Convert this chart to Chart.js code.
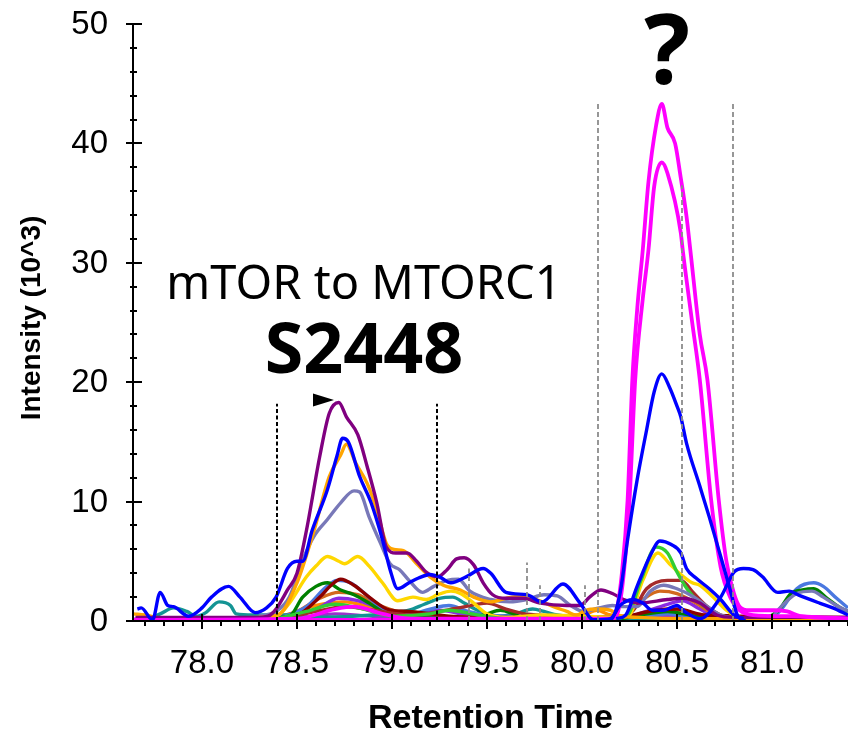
<!DOCTYPE html>
<html>
<head>
<meta charset="utf-8">
<script src="https://cdn.jsdelivr.net/npm/chart.js@4.4.1/dist/chart.umd.min.js"></script>
<style>
  html, body { margin: 0; padding: 0; background: #fff; }
  #wrap { width: 848px; height: 735px; }
</style>
</head>
<body>
<div id="wrap"><canvas id="xic" width="848" height="735"></canvas></div>
<script>
// retention time (min) / intensity (10^3) pairs per transition
let blueMain = [[77.66,1.0],[77.68,1.1],[77.74,0.1],[77.78,2.4],[77.82,1.3],[77.85,1.2],[77.93,0.4],[78.0,1.1],[78.05,2.0],[78.14,2.9],[78.2,2.0],[78.28,0.7],[78.34,1.1],[78.39,2.0],[78.45,4.4],[78.5,5.0],[78.53,5.0],[78.58,7.6],[78.66,11.0],[78.71,13.8],[78.74,15.3],[78.77,15.0],[78.83,12.1],[78.89,9.9],[78.95,6.8],[78.99,4.3],[79.03,2.7],[79.09,3.2],[79.14,3.6],[79.2,3.9],[79.25,3.7],[79.31,3.2],[79.39,3.7],[79.48,4.4],[79.52,4.0],[79.6,2.4],[79.71,2.2],[79.79,1.6],[79.9,3.1],[79.99,1.5],[80.06,0.1],[80.15,0.2],[80.2,1.3],[80.27,1.8],[80.32,1.5],[80.37,0.9],[80.43,0.9],[80.5,1.3],[80.54,0.8],[80.62,0.2],[80.73,2.0],[80.8,4.1],[80.85,4.4],[80.9,4.3],[80.95,3.7],[81.03,2.4],[81.09,2.5],[81.15,2.1],[81.25,1.5],[81.32,1.1],[81.4,0.5]];
let blueBig = [[80.1,0.0],[80.15,0.1],[80.2,2.3],[80.24,6.8],[80.29,11.8],[80.34,16.0],[80.38,19.2],[80.42,20.7],[80.46,19.6],[80.5,18.0],[80.52,17.1],[80.55,14.9],[80.62,11.3],[80.67,8.7],[80.73,5.4],[80.78,2.6],[80.82,0.4],[80.86,0.0]];
let blueSmall = [[80.18,0.2],[80.23,0.5],[80.29,2.9],[80.36,5.5],[80.41,6.7],[80.47,6.4],[80.52,5.7],[80.55,4.4],[80.6,3.6],[80.67,2.7],[80.73,1.8],[80.8,0.5],[80.85,0.2]];
let magentaHigh = [[77.64,0.1],[80.12,0.1],[80.15,0.2],[80.18,0.8],[80.21,4.0],[80.24,10.1],[80.265,20.2],[80.29,26.0],[80.32,31.1],[80.35,36.8],[80.39,41.5],[80.42,43.3],[80.45,41.3],[80.49,40.0],[80.52,37.1],[80.55,33.9],[80.57,31.1],[80.62,24.0],[80.66,20.2],[80.72,10.1],[80.76,5.0],[80.8,2.3],[80.83,1.2],[80.88,0.9],[81.01,0.9],[81.08,0.8],[81.15,0.4],[81.4,0.2]];
let magentaLow = [[77.64,0.1],[78.5,0.2],[78.7,1.0],[78.8,1.2],[78.95,0.6],[79.1,0.2],[80.13,0.2],[80.16,0.2],[80.19,0.8],[80.22,4.0],[80.25,10.1],[80.28,20.2],[80.32,27.0],[80.35,31.1],[80.38,36.4],[80.42,38.4],[80.45,37.5],[80.52,32.5],[80.53,31.1],[80.58,25.0],[80.62,20.2],[80.68,10.1],[80.73,4.5],[80.78,2.0],[80.83,0.9],[80.9,0.5],[81.1,0.4],[81.4,0.2]];
let purple = [[77.65,0.3],[78.3,0.3],[78.36,0.5],[78.39,1.0],[78.45,2.6],[78.5,4.0],[78.55,7.6],[78.62,13.8],[78.67,17.4],[78.72,18.3],[78.76,17.1],[78.82,15.6],[78.87,12.9],[78.92,9.9],[78.97,6.2],[79.02,5.7],[79.08,5.7],[79.13,5.0],[79.18,4.1],[79.24,3.7],[79.29,4.3],[79.34,5.2],[79.38,5.3],[79.43,4.7],[79.48,3.2],[79.53,2.2],[79.6,1.9],[79.69,1.9],[79.78,1.5],[79.92,1.3],[79.99,1.3],[80.04,2.0],[80.1,2.6],[80.16,2.3],[80.22,1.8],[80.3,1.5],[80.45,1.8],[80.53,1.9],[80.62,1.5],[80.71,0.5],[80.8,0.3],[81.4,0.3]];
let orange = [[77.64,0.6],[77.7,0.5],[77.8,0.2],[78.3,0.3],[78.41,0.6],[78.5,3.2],[78.59,7.6],[78.67,12.1],[78.73,13.9],[78.76,14.8],[78.81,13.2],[78.87,11.5],[78.92,9.3],[78.97,6.5],[79.01,6.0],[79.06,5.9],[79.13,4.8],[79.2,3.7],[79.27,3.0],[79.36,2.6],[79.43,2.0],[79.52,1.6],[79.6,1.9],[79.69,2.1],[79.76,1.8],[79.85,1.2],[79.92,0.8],[79.97,0.5],[80.02,0.9],[80.08,1.0],[80.15,0.9],[80.19,0.5],[80.3,0.3],[80.6,0.2],[81.4,0.2]];
let slate = [[78.3,0.4],[78.39,0.8],[78.46,2.0],[78.53,5.1],[78.59,7.1],[78.66,8.5],[78.73,9.9],[78.8,10.9],[78.83,10.8],[78.88,8.7],[78.94,6.5],[78.99,4.8],[79.04,4.3],[79.09,3.4],[79.16,2.4],[79.22,2.9],[79.29,3.4],[79.35,3.5],[79.41,2.5],[79.52,1.8],[79.62,1.6],[79.71,1.8],[79.8,2.2],[79.87,2.1],[79.94,1.3],[80.01,0.8],[80.09,1.1],[80.16,1.3],[80.22,1.2],[80.29,1.2],[80.36,2.5],[80.43,3.0],[80.5,2.7],[80.59,2.0],[80.66,1.2],[80.73,0.5],[80.85,0.2],[81.0,0.3],[81.03,0.9],[81.13,2.3],[81.21,2.5],[81.27,2.0],[81.34,1.3],[81.4,0.8]];
let limeGreen = [[78.4,0.2],[78.55,0.8],[78.7,1.4],[78.85,1.0],[79.0,0.4],[79.2,0.6],[79.3,0.9],[79.45,0.5],[79.6,0.2],[80.15,0.2],[80.24,0.5],[80.31,3.4],[80.39,6.2],[80.45,5.7],[80.5,4.1],[80.54,3.0],[80.6,1.8],[80.69,0.8],[80.74,0.4],[80.85,0.2],[81.4,0.2]];
let gold = [[78.3,0.3],[78.39,0.4],[78.46,1.5],[78.55,3.7],[78.6,4.6],[78.66,5.4],[78.72,5.0],[78.75,4.8],[78.82,5.4],[78.88,4.6],[78.95,3.2],[79.03,1.7],[79.11,2.0],[79.18,1.8],[79.24,2.2],[79.31,2.5],[79.36,2.3],[79.43,1.5],[79.5,0.6],[79.6,0.3],[79.8,0.5],[80.0,0.4],[80.2,0.3],[80.25,0.5],[80.32,3.4],[80.4,5.7],[80.46,4.8],[80.52,3.9],[80.58,3.2],[80.62,3.0],[80.69,2.0],[80.76,0.9],[80.81,0.4],[80.9,0.2]];
let brown = [[77.65,0.1],[78.4,0.2],[78.6,0.8],[78.75,1.2],[78.9,0.9],[79.1,0.5],[79.35,1.1],[79.5,1.5],[79.6,1.0],[79.7,0.6],[80.2,0.3],[80.27,0.9],[80.34,2.7],[80.45,3.4],[80.52,3.4],[80.59,2.3],[80.66,1.2],[80.73,0.5],[80.85,0.2],[81.4,0.2]];
let maroon = [[78.3,0.2],[78.5,0.5],[78.62,2.0],[78.68,3.0],[78.73,3.5],[78.8,3.0],[78.88,2.0],[78.99,0.9],[79.09,0.8],[79.2,0.6],[79.3,0.4],[79.5,0.3],[80.2,0.3],[80.35,0.8],[80.5,1.0],[80.65,0.5],[81.4,0.3]];
let darkGreen = [[78.3,0.2],[78.46,0.4],[78.53,2.0],[78.6,2.9],[78.66,3.2],[78.73,2.6],[78.8,2.2],[78.88,1.5],[78.97,0.6],[79.06,0.4],[79.2,0.3],[79.4,0.2],[79.5,0.6],[79.57,0.9],[79.64,0.6],[79.7,0.2],[80.2,0.2],[80.3,0.5],[80.45,0.8],[80.6,0.4],[80.9,0.2],[81.03,0.8],[81.1,2.3],[81.16,2.6],[81.22,2.7],[81.29,1.9],[81.35,1.2],[81.4,0.8]];
let royalBlue = [[78.4,0.2],[78.55,1.2],[78.65,2.8],[78.71,3.4],[78.78,3.2],[78.85,2.4],[78.95,1.0],[79.1,0.6],[79.2,1.0],[79.3,1.3],[79.4,0.8],[79.6,0.4],[80.3,0.3],[80.45,0.6],[80.55,0.4],[81.0,0.3],[81.05,1.0],[81.13,2.7],[81.22,3.2],[81.27,2.9],[81.34,1.9],[81.4,1.1]];
let teal = [[77.66,0.3],[77.72,0.3],[77.78,0.6],[77.85,1.1],[77.92,0.8],[77.97,0.4],[78.02,0.7],[78.09,1.6],[78.15,1.3],[78.18,0.6],[78.27,0.5],[78.45,0.5],[78.6,0.3],[78.9,0.5],[79.0,0.7],[79.09,0.9],[79.17,1.4],[79.25,1.9],[79.32,2.0],[79.38,1.5],[79.45,0.9],[79.55,0.4],[79.65,0.6],[79.74,1.0],[79.8,0.8],[79.87,0.5],[80.0,0.3],[80.5,0.2],[81.4,0.2]];
let chocolate = [[78.35,0.2],[78.5,0.8],[78.62,1.9],[78.72,2.4],[78.82,2.2],[78.92,1.4],[79.05,0.7],[79.2,0.4],[80.2,0.2],[80.32,1.8],[80.41,2.5],[80.5,2.3],[80.6,1.5],[80.69,0.6],[80.8,0.2],[81.4,0.2]];
let blueViolet = [[78.4,0.2],[78.6,1.0],[78.72,1.9],[78.82,1.7],[78.95,1.0],[79.1,0.6],[79.25,0.9],[79.4,0.5],[80.2,0.2],[80.3,0.6],[80.45,1.4],[80.53,1.7],[80.62,1.0],[80.72,0.3],[81.4,0.2]];
let darkOrange = [[78.4,0.2],[78.6,1.3],[78.75,1.6],[78.9,1.1],[79.1,0.4],[79.3,0.3],[80.0,0.5],[80.08,0.9],[80.15,0.5],[80.3,0.4],[80.45,1.0],[80.55,0.6],[81.4,0.2]];
let darkOrchid = [[77.64,0.15],[78.5,0.2],[78.7,0.6],[78.9,0.4],[79.5,0.2],[80.4,0.4],[80.6,0.3],[81.4,0.15]];

// integration boundaries and other peak markers (retention time, marker top)
let boundaryTimes = [78.395, 79.237];
let boundaryTops = [18.2, 18.2];
let markerTimes = [79.405, 79.71, 79.78, 80.016, 80.084, 80.526, 80.795];
let markerTops = [4.4, 4.9, 3.0, 3.0, 43.3, 36.5, 43.3];

let yTickValues = [0, 10, 20, 30, 40, 50];
let xTickValues = [78.0, 78.5, 79.0, 79.5, 80.0, 80.5, 81.0];

// first entry is drawn on top
let traces = [
    [blueMain, '#0000FF', 3.4],
    [blueBig, '#0000FF', 3.4],
    [blueSmall, '#0000FF', 3.4],
    [magentaHigh, '#FF00FF', 3.8],
    [magentaLow, '#FF00FF', 3.8],
    [purple, '#800080', 3.4],
    [orange, '#FFA500', 3.4],
    [slate, '#7878B8', 3.4],
    [limeGreen, '#32CD32', 3.4],
    [gold, '#FFD700', 3.4],
    [brown, '#A52A2A', 3.4],
    [maroon, '#8B0000', 3.4],
    [darkGreen, '#008000', 3.4],
    [royalBlue, '#4A78E0', 3.4],
    [teal, '#149494', 3.4],
    [chocolate, '#D2691E', 3.4],
    [blueViolet, '#8A2BE2', 3.4],
    [darkOrange, '#FF8C00', 3.4],
    [darkOrchid, '#9932CC', 3.4]
];

let datasets = traces.map(function (t) {
    return {
        data: t[0].map(function (p) { return { x: p[0], y: p[1] }; }),
        borderColor: t[1],
        borderWidth: t[2],
        pointRadius: 0,
        fill: false,
        cubicInterpolationMode: 'monotone'
    };
});

function dashedLine(ctx, x, yTop, yBottom, color, width, dash) {
    ctx.save();
    ctx.strokeStyle = color;
    ctx.lineWidth = width;
    ctx.setLineDash(dash);
    ctx.beginPath();
    ctx.moveTo(x, yBottom);
    ctx.lineTo(x, yTop);
    ctx.stroke();
    ctx.restore();
}

let markersPlugin = {
    id: 'markers',
    afterDatasetsDraw: function (chart) {
        let ctx = chart.ctx;
        let xs = chart.scales.x, ys = chart.scales.y;
        let bottom = ys.getPixelForValue(0);
        boundaryTimes.forEach(function (t, i) {
            dashedLine(ctx, Math.round(xs.getPixelForValue(t)), ys.getPixelForValue(boundaryTops[i]), bottom, '#000', 2, [4, 2.5]);
        });
        markerTimes.forEach(function (t, i) {
            dashedLine(ctx, Math.round(xs.getPixelForValue(t)), ys.getPixelForValue(markerTops[i]), bottom, '#8c8c8c', 1.8, [5, 3]);
        });

        // apex arrow on the S2448 peak
        let tipX = xs.getPixelForValue(78.695), tipY = ys.getPixelForValue(18.5);
        ctx.save();
        ctx.fillStyle = '#000';
        ctx.beginPath();
        ctx.moveTo(tipX, tipY);
        ctx.lineTo(tipX - 21, tipY - 6.5);
        ctx.lineTo(tipX - 21, tipY + 6.5);
        ctx.closePath();
        ctx.fill();
        ctx.restore();
    }
};

let axesPlugin = {
    id: 'axes',
    afterDraw: function (chart) {
        let ctx = chart.ctx;
        let xs = chart.scales.x, ys = chart.scales.y;
        let area = chart.chartArea;
        let x0 = area.left, y0 = ys.getPixelForValue(0);
        ctx.save();
        ctx.strokeStyle = '#000';
        ctx.fillStyle = '#000';
        ctx.lineWidth = 2;

        // axis lines
        ctx.beginPath();
        ctx.moveTo(x0, ys.getPixelForValue(50) - 1);
        ctx.lineTo(x0, y0);
        ctx.moveTo(x0 - 7, y0);
        ctx.lineTo(area.right, y0);
        ctx.stroke();

        // y ticks, every 2 with majors every 10
        ctx.beginPath();
        for (let v = 0; v <= 50; v += 2) {
            let py = Math.round(ys.getPixelForValue(v));
            if (v % 10 === 0) {
                ctx.moveTo(x0 - 7, py);
                ctx.lineTo(x0 + 9, py);
            } else {
                ctx.moveTo(x0 - 3, py);
                ctx.lineTo(x0 + 4, py);
            }
        }
        // x ticks, every 0.1 with majors every 0.5
        for (let i = 777; i <= 814; i++) {
            let px = Math.round(xs.getPixelForValue(i / 10));
            if (px <= x0 + 2 || px > area.right) continue;
            if (i % 5 === 0) {
                ctx.moveTo(px, y0 - 7);
                ctx.lineTo(px, y0 + 8);
            } else {
                ctx.moveTo(px, y0);
                ctx.lineTo(px, y0 + 5);
            }
        }
        ctx.stroke();

        // tick labels
        ctx.font = '33px "Liberation Sans", Arial, sans-serif';
        ctx.textBaseline = 'alphabetic';
        ctx.textAlign = 'right';
        yTickValues.forEach(function (v) {
            ctx.fillText(String(v), x0 - 25, ys.getPixelForValue(v) + 10);
        });
        ctx.textAlign = 'center';
        xTickValues.forEach(function (v) {
            ctx.fillText(v.toFixed(1), xs.getPixelForValue(v), y0 + 52);
        });

        // axis titles
        ctx.font = 'bold 34px "Liberation Sans", Arial, sans-serif';
        ctx.fillText('Retention Time', (area.left + area.right) / 2, 728);
        ctx.save();
        ctx.translate(40, 318);
        ctx.rotate(-Math.PI / 2);
        ctx.font = 'bold 28px "Liberation Sans", Arial, sans-serif';
        ctx.fillText('Intensity (10^3)', 0, 0);
        ctx.restore();

        // peak annotations
        ctx.font = '47px "Noto Sans", sans-serif';
        ctx.fillText('mTOR to MTORC1', 364, 299);
        ctx.font = 'bold 70px "Noto Sans", sans-serif';
        ctx.fillText('S2448', 364, 373);
        ctx.font = 'bold 96px "Noto Sans", sans-serif';
        ctx.fillText('?', 667, 84);
        ctx.restore();
    }
};

let xicChart = new Chart(document.getElementById('xic'), {
    type: 'line',
    data: { datasets: datasets },
    options: {
        responsive: false,
        animation: false,
        devicePixelRatio: 1,
        layout: { padding: { left: 133, right: 0, top: 24, bottom: 114 } },
        plugins: { legend: { display: false }, tooltip: { enabled: false } },
        scales: {
            x: { type: 'linear', min: 77.637, max: 81.4, display: false },
            y: { type: 'linear', min: 0, max: 50, display: false }
        }
    },
    plugins: [markersPlugin, axesPlugin]
});
</script>
</body>
</html>
